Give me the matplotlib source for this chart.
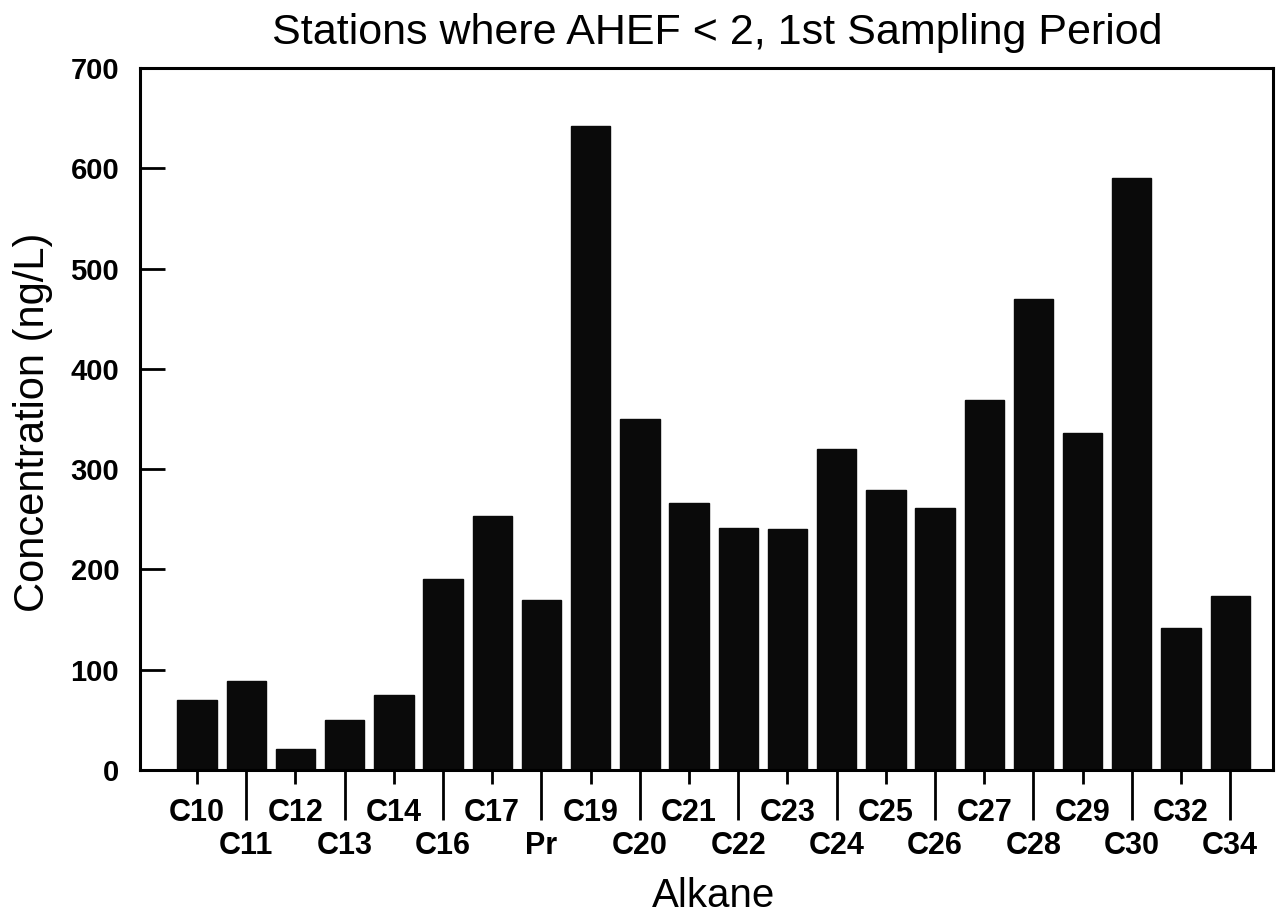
import matplotlib
matplotlib.use("Agg")
import matplotlib.pyplot as plt
import numpy as np

categories = ["C10", "C11", "C12", "C13", "C14", "C16", "C17", "Pr", "C19", "C20", "C21",
              "C22", "C23", "C24", "C25", "C26", "C27", "C28", "C29", "C30", "C32", "C34"]
values = [70, 89, 21, 50, 75, 190, 253, 170, 642, 350, 266,
          241, 240, 320, 279, 261, 369, 470, 336, 590, 142, 174]
yticks = [0, 100, 200, 300, 400, 500, 600, 700]

plt.rcParams['font.family'] = ['Liberation Sans', 'DejaVu Sans']

fig = plt.figure(figsize=(12.79, 9.21), dpi=100)
ax = fig.add_axes([140/1279, 1 - 770/921, (1273-140)/1279, (770-68)/921])

x = np.arange(len(categories))
ax.bar(x, values, width=0.8, color="#0a0a0a", edgecolor="#0a0a0a")

ax.set_xlim(-1.16, 21.87)
ax.set_ylim(0, 700)
ax.set_yticks(yticks)
ax.set_yticklabels([str(t) for t in yticks], fontsize=21, fontweight='bold')

even = x[::2]
odd = x[1::2]
ax.set_xticks(even)
ax.set_xticklabels(categories[::2], fontsize=22, fontweight='bold')
ax.set_xticks(odd, minor=True)
ax.set_xticklabels(categories[1::2], minor=True, fontsize=22, fontweight='bold')

ax.tick_params(axis='x', which='major', direction='out', length=10, width=2, pad=10)
ax.tick_params(axis='x', which='minor', direction='out', length=36, width=2, pad=8)
ax.tick_params(axis='y', which='major', direction='in', length=18, width=2, pad=15)

for s in ax.spines.values():
    s.set_linewidth(2.2)

fig.text(717/1279, 1 - 33/921, "Stations where AHEF < 2, 1st Sampling Period",
         fontsize=31, ha='center', va='center')
fig.text(33/1279, 1 - 422/921, "Concentration (ng/L)", fontsize=30,
         rotation=90, ha='center', va='center')
fig.text(714/1279, 1 - 896/921, "Alkane", fontsize=29, ha='center', va='center')

fig.savefig("out.png", dpi=100)
